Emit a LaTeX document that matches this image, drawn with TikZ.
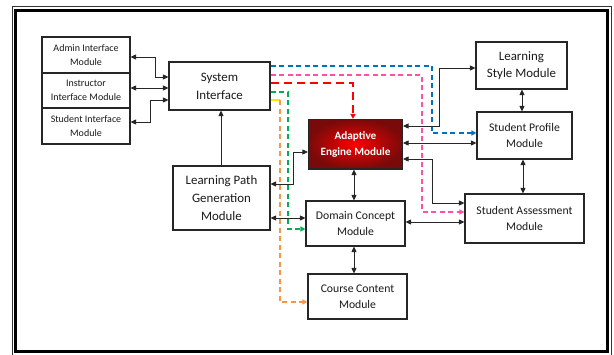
\documentclass[tikz,border=0pt]{standalone}
\usepackage{fontspec}
\setmainfont{Carlito}
\usetikzlibrary{arrows.meta}
\definecolor{txt}{HTML}{1A1A1A}
\definecolor{cblue}{HTML}{0070C0}
\definecolor{cpink}{HTML}{FF4FA8}
\definecolor{cred}{HTML}{FF0000}
\definecolor{cgreen}{HTML}{00B050}
\definecolor{corange}{HTML}{F79646}
\definecolor{cyellow}{HTML}{FFE800}
\definecolor{darkred}{HTML}{7A0A0A}
\tikzset{
  box/.style={draw=black!85, line width=1.1pt, fill=white, align=center, inner sep=0pt, text=txt},
  small/.style={font=\fontsize{10}{13.5}\selectfont},
  mid/.style={font=\fontsize{11.7}{15.7}\selectfont},
  big/.style={font=\fontsize{12.9}{17.8}\selectfont},
  conn/.style={draw=black!85, line width=0.9pt, {Triangle[length=5.5pt,width=5pt]}-{Triangle[length=5.5pt,width=5pt]}},
  conn1/.style={draw=black!85, line width=0.9pt, -{Triangle[length=5.5pt,width=5pt]}},
  dsh/.style={line width=1.5pt, dash pattern=on 5pt off 3.5pt, -{Triangle[length=5pt,width=5pt]}},
}
\begin{document}
\begin{tikzpicture}[x=1pt,y=-1pt]
\useasboundingbox (0,0) rectangle (614,354);
% frame
\draw[black!80, line width=0.8pt] (12,6) rectangle (611.5,356);
\draw[black, line width=3pt] (15.5,10.5) rectangle (607.5,351.5);
% boxes
\node[box, small, minimum width=88pt, minimum height=36pt] (admin) at (86,55) {Admin Interface\\Module};
\node[box, small, minimum width=88pt, minimum height=35pt] (instr) at (86,90.5) {Instructor\\Interface Module};
\node[box, small, minimum width=88pt, minimum height=36pt] (stud) at (86,126) {Student Interface\\Module};
\node[box, big, minimum width=101pt, minimum height=48pt] (sys) at (219.5,86) {System\\Interface};
\node[box, big, minimum width=97pt, minimum height=64pt] (lp) at (221.5,198) {Learning Path\\Generation\\Module};
\node[box, inner color=cred, outer color=darkred, text=white, font=\fontsize{11.2}{16}\selectfont\bfseries, minimum width=94pt, minimum height=49.5pt] (ae) at (355.5,144.25) {Adaptive\\Engine Module};
\node[box, mid, minimum width=99pt, minimum height=45pt] (dc) at (355.5,223.5) {Domain Concept\\Module};
\node[box, mid, minimum width=99pt, minimum height=45pt] (cc) at (357.5,296.5) {Course Content\\Module};
\node[box, mid, minimum width=119pt, minimum height=49pt] (sa) at (524.5,218.5) {Student Assessment\\Module};
\node[box, big, minimum width=91pt, minimum height=47pt] (ls) at (521.5,65.5) {Learning\\Style Module};
\node[box, mid, minimum width=95pt, minimum height=47pt] (sp) at (524.5,135.5) {Student Profile\\Module};
% dashed colored connectors
\draw[dsh, cblue] (sys.east |- 0,66) -- (432,66) -- (432,133) -- (sp.west |- 0,133);
\draw[dsh, cpink] (sys.east |- 0,75) -- (422,75) -- (422,212) -- (sa.west |- 0,212);
\draw[dsh, cred, line width=2.6pt, dash pattern=on 8pt off 5pt] (sys.east |- 0,83) -- (353,83) -- (ae.north -| 353,0);
\draw[dsh, cgreen] (sys.east |- 0,92) -- (288,92) -- (288,229) -- (dc.west |- 0,229);
\draw[cyellow, line width=1.5pt] (sys.east |- 0,100) -- (280,100);
\draw[dsh, corange] (280,100) -- (280,302) -- (cc.west |- 0,302);
% black connectors
\draw[conn] (admin.east |- 0,57) -- (155,57) -- (155,77) -- (sys.west |- 0,77);
\draw[conn] (instr.east |- 0,88) -- (sys.west |- 0,88);
\draw[conn] (stud.east |- 0,122) -- (150,122) -- (150,100) -- (sys.west |- 0,100);
\draw[conn1] (lp.north -| 221,0) -- (sys.south -| 221,0);
\draw[conn] (lp.east |- 0,184) -- (293,184) -- (293,152) -- (ae.west |- 0,152);
\draw[conn] (lp.east |- 0,218) -- (dc.west |- 0,218);
\draw[conn] (ae.south -| 354,0) -- (dc.north -| 354,0);
\draw[conn] (dc.south -| 354,0) -- (cc.north -| 354,0);
\draw[conn] (dc.east |- 0,222) -- (sa.west |- 0,222);
\draw[conn] (ae.east |- 0,126) -- (439,126) -- (439,68) -- (ls.west |- 0,68);
\draw[conn] (ae.east |- 0,143) -- (sp.west |- 0,143);
\draw[conn] (ae.east |- 0,159) -- (432,159) -- (432,203) -- (sa.west |- 0,203);
\draw[conn] (ls.south -| 522,0) -- (sp.north -| 522,0);
\draw[conn] (sp.south -| 523,0) -- (sa.north -| 523,0);
\end{tikzpicture}
\end{document}
